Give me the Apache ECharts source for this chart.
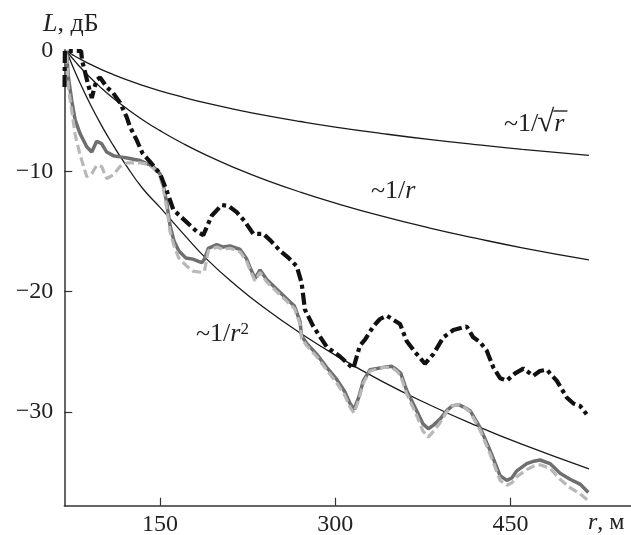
<!DOCTYPE html>
<html><head><meta charset="utf-8">
<script src="https://cdn.jsdelivr.net/npm/echarts@6/dist/echarts.min.js"></script>
<style>html,body{margin:0;padding:0;background:#fff}#c{width:631px;height:535px}</style>
</head><body><div id="c"></div>
<script>
// ---- data ----
const xTicks = [150, 300, 450];
const yTicks = [-30, -20, -10, 0];

const rTheory = [70, 75, 80, 90, 100, 110, 120, 135, 150, 170, 190, 215, 240, 270, 300, 340, 380, 420, 460, 517];
const lSqrt   = [0, -0.30, -0.58, -1.09, -1.55, -1.96, -2.34, -2.85, -3.31, -3.85, -4.34, -4.87, -5.35, -5.86, -6.32, -6.86, -7.35, -7.78, -8.18, -8.68];
const lInv    = [0, -0.60, -1.16, -2.18, -3.10, -3.93, -4.68, -5.71, -6.62, -7.71, -8.68, -9.75, -10.71, -11.73, -12.64, -13.73, -14.70, -15.56, -16.36, -17.37];
const lInv2   = [0, -1.20, -2.32, -4.37, -6.20, -7.85, -9.36, -11.41, -13.0, -15.2, -17.3, -19.49, -21.41, -23.45, -25.28, -27.46, -29.39, -31.13, -32.71, -34.74];

const rGray = [70.1, 71.5, 74.4, 77.3, 81.5, 87.3, 91.6, 95.8, 100, 104.4, 110, 115.8, 122, 127.2, 133, 138.6, 144, 150, 152.9, 155.7, 158.6, 162, 166, 172, 178, 185.7, 188, 191.3, 198.5, 204, 210, 218.5, 224.2, 227, 231.3, 235.6, 241.3, 249.9, 258.4, 265, 269.8, 271.2, 275.5, 284, 292.6, 301.2, 308, 312.6, 316, 320, 324, 329.7, 341, 348, 352.5, 356, 361, 369.6, 375, 379.6, 384, 389.6, 395.3, 400, 405.3, 410, 415.3, 423.8, 432.4, 441, 446.7, 451, 455.3, 463.8, 470, 475.2, 483.7, 492.3, 500.8, 509.4, 516.5];
const lDark = [0, -2.1, -4.1, -5.7, -6.85, -7.96, -8.4, -7.5, -7.7, -8.4, -8.7, -8.8, -8.9, -9.0, -9.1, -9.35, -9.6, -10.2, -11.2, -12.6, -14.5, -15.8, -16.6, -17.2, -17.3, -17.6, -17.3, -16.4, -16.1, -16.3, -16.2, -16.5, -17.3, -18.0, -18.9, -18.2, -19.0, -19.8, -20.6, -21.2, -22.5, -23.7, -24.3, -25.2, -26.3, -27.3, -28.3, -29.3, -29.8, -28.8, -27.4, -26.5, -26.3, -26.2, -26.5, -26.8, -28.2, -29.9, -31.0, -31.4, -31.1, -30.6, -29.9, -29.5, -29.4, -29.6, -29.9, -31.3, -33.2, -35.3, -35.7, -35.5, -34.9, -34.3, -34.1, -34.0, -34.3, -35.1, -35.6, -36.0, -36.7];
const lLight = [-0.3, -3.0, -4.9, -6.9, -8.6, -10.45, -10.2, -9.5, -9.6, -10.6, -10.3, -9.6, -9.3, -9.3, -9.3, -9.4, -9.7, -10.4, -11.5, -13.0, -15.0, -16.2, -17.2, -17.8, -18.3, -18.4, -18.3, -16.6, -16.3, -16.5, -16.4, -16.7, -17.5, -18.2, -19.1, -18.4, -19.2, -20.0, -20.8, -21.4, -22.7, -23.9, -24.5, -25.4, -26.5, -27.6, -28.6, -29.6, -30.1, -29.0, -27.6, -26.6, -26.3, -26.3, -26.6, -27.0, -28.5, -30.3, -31.6, -32.1, -31.6, -30.9, -30.0, -29.5, -29.4, -29.6, -30.0, -31.5, -33.5, -35.7, -36.1, -35.9, -35.4, -34.8, -34.5, -34.4, -34.7, -35.6, -36.3, -36.8, -37.4];

const rBlack = [68.3, 68.6, 82.5, 83.3, 84.4, 88, 91.6, 94, 95.8, 98.7, 104.4, 110, 115.8, 121.5, 124.3, 130, 135, 141.4, 150, 155.7, 161.4, 171.4, 181.4, 187, 194.2, 202.8, 209, 215.6, 222, 229.8, 238.4, 245, 252.7, 260, 267, 271.2, 274, 281.2, 292.6, 304, 315.4, 321, 325.4, 332.5, 338, 344, 355.4, 361, 368, 376.7, 383.9, 392.4, 401, 412.4, 418, 423.8, 429.5, 435.2, 441, 446.7, 453.8, 460.9, 469.4, 475, 480.9, 489.4, 498, 503.7, 509.4, 515];
const lBlack = [-3.0, 0, 0, -0.8, -1.2, -2.6, -3.9, -3.0, -2.4, -2.2, -3.0, -3.5, -4.3, -5.5, -6.3, -7.4, -8.5, -9.2, -10.2, -11.6, -13.2, -14.1, -15.0, -15.3, -13.7, -12.8, -12.9, -13.4, -14.1, -15.2, -15.2, -15.8, -16.6, -17.2, -17.9, -19.3, -21.5, -22.9, -24.6, -25.4, -26.4, -24.5, -24.0, -22.9, -22.3, -22.0, -22.7, -24.1, -25.0, -26.0, -25.2, -23.8, -23.2, -22.9, -23.8, -24.2, -24.9, -26.3, -27.2, -27.4, -26.8, -26.4, -27.0, -26.6, -26.5, -27.4, -28.8, -29.3, -29.5, -30.2];

// ---- chart ----
const zip = (xs, ys) => xs.map((x, i) => [x, ys[i]]);
const FONT = 'Liberation Serif, Times New Roman, serif';
const FS = 24;   // tick labels
const FA = 26;   // annotations / axis names
const thin = { color: '#1a1a1a', width: 1.3 };
const ital = { fontStyle: 'italic', fontSize: FA, fontFamily: FONT, fill: '#222' };

const mctx = document.createElement('canvas').getContext('2d');
function tw(t, f) { mctx.font = f; return mctx.measureText(t).width; }
const sqX = 504, sqTop = 108;
const wPre = tw('~1/', FA + 'px ' + FONT);
const wRad = tw('\u221A', '31px ' + FONT);
const wR = tw('r', 'italic ' + FA + 'px ' + FONT);

const chart = echarts.init(document.getElementById('c'), null, { renderer: 'canvas' });
chart.setOption({
  animation: false,
  backgroundColor: '#fff',
  grid: { left: 64.3, right: 0, top: 49.8, bottom: 29.3, containLabel: false, outerBoundsMode: 'none' },
  xAxis: {
    type: 'value', min: 68.1, max: 553,
    axisLine: { show: true, onZero: false, lineStyle: { color: '#333', width: 1.5 } },
    axisTick: { show: true, inside: true, length: 8, customValues: xTicks, lineStyle: { color: '#333', width: 1.2 } },
    axisLabel: { customValues: xTicks, margin: 7, fontSize: FS, fontFamily: FONT, color: '#222' },
    splitLine: { show: false }
  },
  yAxis: {
    type: 'value', min: -37.8, max: 0.1,
    axisLine: { show: true, onZero: false, lineStyle: { color: '#333', width: 1.5 } },
    axisTick: { show: true, inside: true, length: 8, customValues: yTicks, lineStyle: { color: '#333', width: 1.2 } },
    axisLabel: { customValues: yTicks, margin: 11, fontSize: FS, fontFamily: FONT, color: '#222',
      formatter: v => v < 0 ? '\u2212' + (-v) : String(v) },
    splitLine: { show: false }
  },
  series: [
    { type: 'line', data: zip(rTheory, lSqrt), symbol: 'none', smooth: true, lineStyle: thin, z: 2 },
    { type: 'line', data: zip(rTheory, lInv), symbol: 'none', smooth: true, lineStyle: thin, z: 2 },
    { type: 'line', data: zip(rTheory, lInv2), symbol: 'none', smooth: true, lineStyle: thin, z: 2 },
    { type: 'line', data: zip(rGray, lDark), symbol: 'none', lineStyle: { color: '#6f6f6f', width: 3.5 }, z: 3 },
    { type: 'line', data: zip(rGray, lLight), symbol: 'none', lineStyle: { color: '#b8b8b8', width: 3.2, type: [9, 4] }, z: 4 },
    { type: 'line', data: zip(rBlack, lBlack), symbol: 'none', lineStyle: { color: '#111', width: 4.2, type: [12, 4, 4, 4] }, z: 5 }
  ],
  graphic: [
    { type: 'text', left: 43, top: 11, style: { text: '{i|L}, дБ', font: FA + 'px ' + FONT, fill: '#222', rich: { i: ital } } },
    { type: 'text', left: 588, top: 511, style: { text: '{i|r}, м', font: FS + 'px ' + FONT, fill: '#222',
      rich: { i: Object.assign({}, ital, { fontSize: FS }) } } },
    { type: 'text', left: 371, top: 178, style: { text: '~1/{i|r}', font: FA + 'px ' + FONT, fill: '#222', rich: { i: ital } } },
    { type: 'text', left: 196, top: 321, style: { text: '~1/{i|r}{s|2}', font: FA + 'px ' + FONT, fill: '#222',
      rich: { i: ital, s: { fontSize: 17, fontFamily: FONT, fill: '#222', verticalAlign: 'top', padding: [0, 0, 10, 0] } } } },
    { type: 'text', left: sqX, top: sqTop + 3, style: { text: '~1/', font: FA + 'px ' + FONT, fill: '#222' } },
    { type: 'text', left: sqX + wPre - 1, top: sqTop - 1, style: { text: '\u221A', font: '31px ' + FONT, fill: '#222' } },
    { type: 'text', left: sqX + wPre + wRad - 1, top: sqTop + 3, style: { text: 'r', font: 'italic ' + FA + 'px ' + FONT, fill: '#222' } },
    { type: 'line', shape: { x1: sqX + wPre + wRad - 2, y1: sqTop + 3, x2: sqX + wPre + wRad + wR + 2, y2: sqTop + 3 },
      style: { stroke: '#222', lineWidth: 1.4 } }
  ]
});
</script></body></html>
